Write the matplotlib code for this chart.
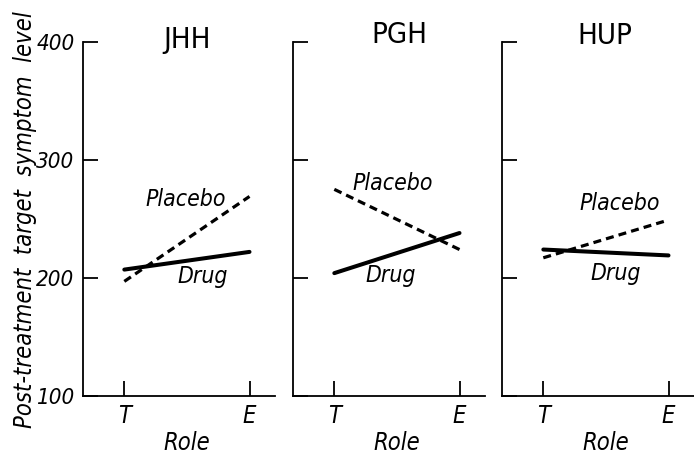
import matplotlib
matplotlib.use("Agg")
import matplotlib.pyplot as plt
import matplotlib.transforms as mtransforms

plt.rcParams['font.family'] = ['DejaVu Sans']
plt.rcParams['font.stretch'] = 'condensed'

hospitals = ['JHH', 'PGH', 'HUP']
roles = ['T', 'E']
drug = [[207, 222], [204, 238], [224, 219]]
placebo = [[197, 269], [275, 224], [217, 249]]

# label positions (role axis, symptom level)
title_pos = [(0.50, 402), (0.52, 406), (0.49, 405)]
placebo_pos = [(0.49, 266), (0.47, 280), (0.61, 263)]
drug_pos = [(0.63, 201), (0.45, 202), (0.58, 204)]

fig = plt.figure(figsize=(6.94, 4.55), dpi=100)
lefts = [83, 293, 502]
for i, name in enumerate(hospitals):
    ax = fig.add_axes([lefts[i] / 694, 0.130, 0.276, 0.778])
    x = range(len(roles))
    ax.plot(x, drug[i], color='black', lw=2.9, solid_capstyle='round')
    ax.plot(x, placebo[i], color='black', lw=2.3, dashes=(2.5, 1.6))
    ax.set_xlim(-0.33, 1.20)
    ax.set_ylim(100, 400)
    for s in ['top', 'right']:
        ax.spines[s].set_visible(False)
    for s in ['left', 'bottom']:
        ax.spines[s].set_linewidth(1.3)
    ax.set_xticks(list(x))
    ax.set_xticklabels(roles, fontsize=17, fontstyle='italic')
    ax.set_yticks([100, 200, 300, 400])
    if i == 0:
        ax.set_yticklabels(['100', '200', '300', '400'], fontsize=16,
                           fontstyle='italic')
    else:
        ax.set_yticklabels([])
    ax.tick_params(direction='in', length=11, width=1.3, pad=6)
    ax.text(*title_pos[i], name, ha='center', va='center', fontsize=21,
            clip_on=False)
    ax.text(*placebo_pos[i], 'Placebo', ha='center', va='center',
            fontsize=16.5, fontstyle='italic')
    ax.text(*drug_pos[i], 'Drug', ha='center', va='center',
            fontsize=16.5, fontstyle='italic')
    trans = mtransforms.blended_transform_factory(ax.transData, ax.transAxes)
    ax.text(0.5, -0.133, 'Role', transform=trans, ha='center', va='center',
            fontsize=17, fontstyle='italic')

fig.text(25 / 694, 0.518, 'Post-treatment  target  symptom  level',
         rotation=90, ha='center', va='center', fontsize=17,
         fontstyle='italic')

fig.savefig('out.png', dpi=100)
